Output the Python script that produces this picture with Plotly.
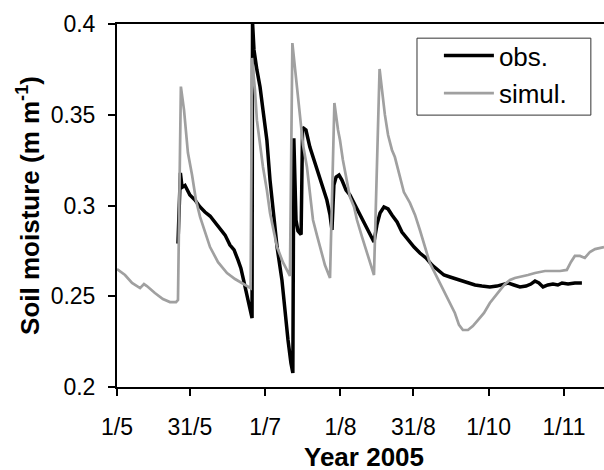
import pandas as pd
import plotly.graph_objects as go

# days since 1 May 2005 and soil moisture values
obs_day = [25.1, 25.5, 26.1, 26.8, 28.0, 30.0, 32.1, 34.2, 36.2, 38.3, 40.3, 42.4, 44.5, 46.5, 48.2,
           49.8, 51.0, 52.3, 53.5, 54.7, 55.6, 55.8, 56.4, 57.6, 58.9, 60.1, 61.7, 63.0, 64.6, 65.9,
           67.9, 69.2, 70.4, 71.6, 72.4, 72.8, 73.7, 74.5, 75.8, 76.4, 77.8, 79.4, 81.1, 82.3, 83.6,
           84.8, 86.4, 87.7, 88.5, 89.3, 90.2, 91.4, 92.6, 94.3, 95.9, 98.0, 100.0, 102.1, 104.1, 105.8,
           107.0, 108.3, 109.9, 111.6, 113.2, 115.3, 117.3, 119.8, 122.3, 124.7, 127.2, 129.7, 132.1,
           134.6, 137.1, 139.5, 142.0, 144.5, 147.4, 150.2, 153.5, 156.4, 158.9, 161.0, 163.4, 165.9,
           168.4, 170.4, 172.1, 173.7, 175.4, 177.4, 179.5, 181.5, 183.2, 185.7, 188.5, 191.4]
obs_val = [0.279, 0.297, 0.318, 0.310, 0.311, 0.3058, 0.303, 0.2992, 0.2964, 0.2942, 0.2909, 0.287,
           0.2837, 0.2782, 0.2755, 0.270, 0.2655, 0.2578, 0.2507, 0.2441, 0.238, 0.401, 0.3857, 0.3747,
           0.3653, 0.3526, 0.3361, 0.314, 0.292, 0.2771, 0.259, 0.2408, 0.2259, 0.2132, 0.2077, 0.337,
           0.292, 0.286, 0.284, 0.343, 0.3416, 0.3322, 0.325, 0.3212, 0.3157, 0.3102, 0.303, 0.2948,
           0.2865, 0.3113, 0.3157, 0.3168, 0.314, 0.3085, 0.3058, 0.3003, 0.2948, 0.2893, 0.2837, 0.2799,
           0.2893, 0.2959, 0.2992, 0.2981, 0.2948, 0.2909, 0.2854, 0.281, 0.2771, 0.2738, 0.2711, 0.2672,
           0.2645, 0.2617, 0.2606, 0.2595, 0.2584, 0.2573, 0.2562, 0.2556, 0.2551, 0.2556, 0.2567, 0.2573,
           0.2562, 0.2551, 0.2556, 0.2567, 0.2584, 0.2573, 0.2551, 0.2562, 0.2567, 0.2562, 0.2573, 0.2567,
           0.2573, 0.2573]

sim_day = [0.0, 3.3, 6.2, 9.5, 11.1, 12.3, 15.6, 18.9, 21.8, 24.3, 25.1, 26.3, 27.6, 29.2, 30.9, 32.5,
           34.2, 36.2, 38.3, 41.6, 45.3, 48.6, 51.5, 54.3, 55.0, 55.6, 56.8, 57.6, 58.9, 60.1, 61.7, 63.0,
           64.6, 65.9, 68.3, 71.2, 72.2, 73.7, 75.3, 76.6, 78.2, 79.4, 80.7, 82.3, 83.6, 85.6, 87.7, 89.5,
           91.0, 91.8, 93.0, 94.7, 95.9, 97.6, 98.8, 100.9, 102.9, 105.4, 105.8, 108.1, 109.5, 110.3,
           111.6, 113.2, 114.4, 115.7, 116.9, 118.1, 120.6, 122.7, 124.7, 126.8, 128.8, 130.9, 133.0,
           135.0, 137.1, 139.1, 140.8, 142.4, 144.5, 146.5, 148.6, 151.1, 153.5, 155.6, 157.7, 159.7,
           161.8, 163.8, 165.9, 169.2, 172.1, 176.2, 182.4, 185.2, 186.9, 188.5, 190.6, 192.6, 194.7,
           196.8, 200.5]
sim_val = [0.265, 0.2617, 0.2573, 0.2545, 0.2567, 0.2556, 0.2518, 0.2485, 0.2468, 0.2468, 0.248, 0.3655,
           0.3526, 0.329, 0.3168, 0.303, 0.2937, 0.2854, 0.2771, 0.2688, 0.2628, 0.2595, 0.2573, 0.2551,
           0.2545, 0.3813, 0.3636, 0.347, 0.3333, 0.3212, 0.3085, 0.2959, 0.2854, 0.2771, 0.2688, 0.2612,
           0.3895, 0.3691, 0.347, 0.3333, 0.3212, 0.3085, 0.292, 0.2837, 0.2771, 0.2672, 0.2601, 0.3565,
           0.3416, 0.3361, 0.3251, 0.314, 0.3047, 0.2992, 0.292, 0.2826, 0.2738, 0.2628, 0.2617, 0.3752,
           0.3581, 0.3499, 0.3388, 0.3306, 0.3267, 0.3196, 0.314, 0.3074, 0.3014, 0.2948, 0.2865, 0.2771,
           0.2683, 0.2628, 0.2573, 0.2523, 0.2463, 0.2408, 0.2342, 0.2314, 0.2314, 0.2336, 0.2369, 0.2408,
           0.2463, 0.2501, 0.2534, 0.2567, 0.259, 0.2601, 0.2606, 0.2617, 0.2628, 0.2639, 0.2639, 0.2645,
           0.2689, 0.2722, 0.2722, 0.2711, 0.2744, 0.276, 0.2771]

tick_dates = ["2005-05-01", "2005-05-31", "2005-07-01", "2005-08-01", "2005-08-31", "2005-10-01", "2005-11-01"]
tick_labels = ["1/5", "31/5", "1/7", "1/8", "31/8", "1/10", "1/11"]
y_ticks = [0.2, 0.25, 0.3, 0.35, 0.4]
y_labels = ["0.2", "0.25", "0.3", "0.35", "0.4"]

base = pd.Timestamp("2005-05-01")
obs_x = base + pd.to_timedelta(obs_day, unit="D")
sim_x = base + pd.to_timedelta(sim_day, unit="D")

fig = go.Figure()
fig.add_trace(go.Scatter(x=obs_x, y=obs_val, mode="lines", name="obs.", legendgroup="a",
                         line=dict(color="black", width=3.5)))
fig.add_trace(go.Scatter(x=sim_x, y=sim_val, mode="lines", name="simul.", legendgroup="b",
                         line=dict(color="#a0a0a0", width=2.7)))

font = "Liberation Sans, Arial, sans-serif"
fig.update_layout(
    width=604, height=470,
    margin=dict(l=117, r=0, t=24, b=83, autoexpand=False),
    paper_bgcolor="white", plot_bgcolor="white",
    font=dict(family=font, color="black", size=23),
    showlegend=True,
    legend=dict(x=0.661, y=0.978, xanchor="left", yanchor="top",
                borderwidth=0, bgcolor="rgba(0,0,0,0)",
                font=dict(size=26, family=font), itemwidth=50,
                tracegroupgap=1),
    shapes=[dict(type="rect", xref="paper", yref="paper",
                 x0=0.616, x1=0.973, y0=0.749, y1=0.961,
                 line=dict(color="#333333", width=1), fillcolor="rgba(0,0,0,0)", layer="below")],
    annotations=[dict(text="<b>Year 2005</b>", xref="paper", yref="paper",
                      x=0.508, y=-0.192, xanchor="center", yanchor="middle",
                      showarrow=False, font=dict(size=26, family=font, color="black"))],
    xaxis=dict(type="date", range=["2005-05-01", "2005-11-17 12:00"],
               tickvals=tick_dates, ticktext=tick_labels,
               ticks="outside", ticklen=7, tickwidth=1.5, tickcolor="black",
               showline=True, linecolor="black", linewidth=2, mirror=True,
               showgrid=False, zeroline=False, automargin=False,
               tickfont=dict(size=23), ticklabelstandoff=11),
    yaxis=dict(range=[0.2, 0.4], tickvals=y_ticks, ticktext=y_labels,
               ticks="outside", ticklen=7, tickwidth=1.5, tickcolor="black",
               showline=True, linecolor="black", linewidth=2,
               showgrid=False, zeroline=False, automargin=False,
               tickfont=dict(size=23), ticklabelstandoff=8,
               title=dict(text="<b>Soil moisture (m m<sup>-1</sup>)</b>", font=dict(size=26), standoff=4)),
)

fig.write_html("out.html", config={"displayModeBar": False},
               post_script="document.body.style.margin='0';document.body.style.padding='0';")
